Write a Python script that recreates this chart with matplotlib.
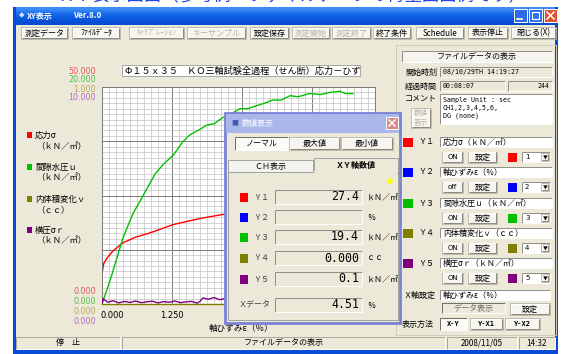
import numpy as np
import matplotlib.pyplot as plt
from matplotlib.patches import Rectangle, Circle
from matplotlib.ticker import MultipleLocator

plt.rcParams['font.family'] = ['Noto Sans CJK JP', 'DejaVu Sans']

W, H = 561, 354

# ---- グラフのデータ ----
x_label = '軸ひずみε（％）'
x_ticks = [0.0, 1.25, 2.5, 3.75]
x_max = 4.875
scale_max = [50.0, 20.0, 1.0, 10.0]   # Y1, Y3, Y4, Y5
scale_min = [0.0, 0.0, 0.0, 0.0]

# Y1 応力σ (kN/m2)
red_x = [0.0, 0.0, 0.03, 0.09, 0.2, 0.375, 0.6, 0.86, 1.27, 1.75, 2.23, 2.8, 3.4, 4.0, 4.51]
red_y = [0.0, 6.9, 9.3, 10.6, 12.3, 14.1, 15.4, 16.4, 18.3, 19.7, 20.8, 22.3, 24.0, 25.7, 27.4]

# Y3 間隙水圧u (kN/m2)
green_x = [0.0, 0.14, 0.375, 0.55, 0.68, 0.95, 1.1, 1.27, 1.45, 1.57, 1.75, 1.875, 2.0, 2.16,
           2.3, 2.46, 2.6, 2.77, 2.9, 3.05, 3.2, 3.36, 3.5, 3.71, 3.9, 4.07, 4.25, 4.35, 4.48]
green_y = [0.0, 2.1, 6.1, 8.3, 9.5, 12.0, 12.9, 13.7, 15.0, 15.6, 16.1, 16.5, 16.6, 17.2,
           17.5, 18.0, 18.0, 18.3, 18.5, 18.8, 18.8, 19.2, 19.1, 19.4, 19.3, 19.5, 19.6, 19.4, 19.4]

# Y4 内体積変化v (cc)
olive_x = [0.0, 4.51]
olive_y = [0.0, 0.0]

# Y5 横圧σr (kN/m2)
purple_x = [0.0, 0.02, 0.1, 0.2, 0.3, 0.4, 0.5, 0.6, 0.7, 0.8, 0.9, 1.0, 1.1, 1.2, 1.3, 1.4,
            1.5, 1.6, 1.7, 1.75, 1.8, 1.9, 2.0, 2.1, 2.2, 2.3, 2.4, 3.0, 3.6, 4.2, 4.51]
purple_y = [0.0, 0.25, 0.08, 0.15, 0.05, 0.12, 0.07, 0.14, 0.06, 0.1, 0.13, 0.05, 0.11, 0.08,
            0.14, 0.06, 0.1, 0.12, 0.04, 0.12, 0.28, 0.22, 0.3, 0.2, 0.24, 0.18, 0.2, 0.15, 0.12, 0.1, 0.1]

# 数値表示ダイアログの値
dlg_names = ['Ｙ１', 'Ｙ２', 'Ｙ３', 'Ｙ４', 'Ｙ５']
dlg_values = ['27.4', '', '19.4', '0.000', '0.1']
dlg_units = ['ｋＮ／㎡', '％', 'ｋＮ／㎡', 'ｃｃ', 'ｋＮ／㎡']
x_value = '4.51'

# 右パネル
ch_names = ['応力σ（ｋＮ／㎡）', '軸ひずみε（％）', '間隙水圧ｕ（ｋＮ／㎡）', '内体積変化ｖ（ｃｃ）', '横圧σｒ（ｋＮ／㎡）']
ch_state = ['ON', 'off', 'ON', 'ON', 'ON']
ch_colors = ['#FF0000', '#0000FF', '#00C000', '#808000', '#800080']

legend_names = [('応力σ', '（ｋＮ／㎡）'), ('間隙水圧ｕ', '（ｋＮ／㎡）'),
                ('内体積変化ｖ', '（ｃｃ）'), ('横圧σｒ', '（ｋＮ／㎡）')]
legend_colors = ['#FF0000', '#00C000', '#808000', '#800080']
label_colors = ['#E25858', '#52C052', '#BEA660', '#B66CC0']

BG = '#ECE9D8'
FS = 5.8

fig = plt.figure(figsize=(W / 100, H / 100), dpi=100)

back = fig.add_axes([0, 0, 1, 1], zorder=0)
front = fig.add_axes([0, 0, 1, 1], zorder=5)
for a in (back, front):
    a.set_xlim(0, W)
    a.set_ylim(H, 0)
    a.axis('off')
front.patch.set_visible(False)


def box(ax, x0, y0, x1, y1, fc, ec='none', lw=0.7, z=1):
    r = Rectangle((x0, y0), x1 - x0, y1 - y0, fc=fc, ec=ec, lw=lw, zorder=z)
    ax.add_patch(r)
    return r


def bevel(ax, x0, y0, x1, y1, light, dark, lw=0.7, z=2):
    kw = dict(lw=lw, solid_capstyle='butt', zorder=z)
    ax.plot([x0, x1], [y0, y0], color=light, **kw)
    ax.plot([x0, x0], [y0, y1], color=light, **kw)
    ax.plot([x0, x1], [y1, y1], color=dark, **kw)
    ax.plot([x1, x1], [y0, y1], color=dark, **kw)


def button(ax, x0, y0, x1, y1, label, color='black', face='#F6F5F0', pressed=False,
           fs=FS, weight='normal', family=None):
    box(ax, x0, y0, x1, y1, face, '#A8A79C', 0.5)
    if pressed:
        bevel(ax, x0, y0, x1, y1, '#716F64', '#FFFFFF')
    else:
        bevel(ax, x0 + 0.6, y0 + 0.6, x1 - 0.6, y1 - 0.6, '#FFFFFF', '#8A887C')
    kw = {}
    if family:
        kw['family'] = family
    ax.text((x0 + x1) / 2, (y0 + y1) / 2, label, ha='center', va='center', fontsize=fs,
            color=color, weight=weight, zorder=3, **kw)


def field(ax, x0, y0, x1, y1, face='white'):
    box(ax, x0, y0, x1, y1, face, 'none')
    bevel(ax, x0, y0, x1, y1, '#8E8D86', '#FFFFFF')


# ---- ウィンドウ ----
back.text(292, 4, 'ＸＹ表示画面（参考例：ファイルデータの再生画面例です）', ha='center',
          va='bottom', fontsize=12.5, color='#2346DF')
box(back, 13, 7, 558, 354, BG)
grad = np.array([[0.24, 0.55, 0.96], [0.10, 0.42, 0.93], [0.04, 0.35, 0.88], [0.03, 0.30, 0.82]])
back.imshow(grad[:, None, :], extent=(13, 558, 25, 7), aspect='auto', interpolation='bilinear', zorder=1)
back.set_xlim(0, W)
back.set_ylim(H, 0)
box(back, 13, 7, 16, 354, '#0A4BD6')
box(back, 555, 7, 558, 354, '#0A4BD6')
box(back, 13, 350, 558, 354, '#0A4BD6')
back.text(19, 16, '◆', fontsize=4, color='#D8E4FF', va='center', zorder=3)
back.text(27, 16, 'XY表示', fontsize=FS, color='white', weight='bold', va='center', zorder=3)
back.text(73, 16, 'Ver.8.0', fontsize=FS, color='white', weight='bold', va='center', zorder=3)
for x0, fc in [(514, '#2C6BEA'), (529, '#2C6BEA'), (544, '#E2542E')]:
    box(back, x0, 9, x0 + 13, 22, fc, 'white', 0.7, z=3)
back.plot([517, 522], [19, 19], color='white', lw=1.2, zorder=4)
box(back, 532, 12, 539, 19, 'none', 'white', 0.9, z=4)
back.plot([547, 554], [12, 19], color='white', lw=1.1, zorder=4)
back.plot([547, 554], [19, 12], color='white', lw=1.1, zorder=4)

# ツールバー
toolbar = [('測定データ', 21, 68, True), ('ﾌｧｲﾙﾃﾞｰﾀ', 72, 120, True), ('ｷｬﾘﾌﾞﾚｰｼｮﾝ', 129, 184, False),
           ('キーサンプル', 187, 246, False), ('設定保存', 250, 289, True), ('測定開始', 292, 330, False),
           ('測定終了', 332, 371, False), ('終了条件', 373, 411, True), ('Schedule', 416, 464, True),
           ('表示停止', 468, 508, True), ('閉じる(X)', 511, 556, True)]
for lab, x0, x1, en in toolbar:
    button(back, x0, 27, x1, 39, lab, color='black' if en else '#B5B2A6')

# ---- グラフ ----
px0, py0, px1, py1 = 102, 87, 375, 304
ax = fig.add_axes([px0 / W, 1 - py1 / H, (px1 - px0) / W, (py1 - py0) / H], zorder=1)
ax.set_facecolor('white')
ax.set_xlim(0, x_max)
ax.set_ylim(scale_min[0], scale_max[0])
ax.xaxis.set_major_locator(MultipleLocator(1.25))
ax.xaxis.set_minor_locator(MultipleLocator(0.125))
ax.yaxis.set_major_locator(MultipleLocator(scale_max[0] / 4))
ax.yaxis.set_minor_locator(MultipleLocator(scale_max[0] / 40))
ax.grid(which='minor', color='#C4C4C4', lw=0.5)
ax.grid(which='major', color='#7A7A7A', lw=0.7)
ax.set_axisbelow(True)
ax.tick_params(which='both', length=0, labelbottom=False, labelleft=False)
for s in ax.spines.values():
    s.set_color('#7A7A7A')
    s.set_linewidth(0.7)

axes_y = [ax]
for k in range(1, 4):
    t = ax.twinx()
    t.set_ylim(scale_min[k], scale_max[k])
    t.axis('off')
    axes_y.append(t)

axes_y[2].plot(olive_x, olive_y, color='#808000', lw=1.0, clip_on=False)
axes_y[3].plot(purple_x, purple_y, color='#800080', lw=1.0)
axes_y[0].plot(red_x, red_y, color='#FF0000', lw=1.0)
axes_y[1].plot(green_x, green_y, color='#00C000', lw=1.0)

# グラフタイトル
tb = box(back, 122, 65, 360, 76, 'white', '#9A9A9A', 0.6)
tt = back.text(125, 70.8, 'Φ１５ｘ３５　ＫＯ三軸試験全過程（せん断）応力－ひずみ', fontsize=6.6,
               va='center', zorder=3, clip_on=True)
tt.set_clip_path(tb)

# スケール表示
for k in range(4):
    back.text(96, 71 + 9 * k, f'{scale_max[k]:.3f}', ha='right', va='center', fontsize=5.8,
              color=label_colors[k], family='DejaVu Sans')
    back.text(96, 291 + 10 * k, f'{scale_min[k]:.3f}', ha='right', va='center', fontsize=5.8,
              color=label_colors[k], family='DejaVu Sans')

for v in x_ticks:
    xp = px0 + v / x_max * (px1 - px0)
    back.text(xp if v > 0 else px0 - 1, 315, f'{v:.3f}', ha='center' if v > 0 else 'left',
              va='center', fontsize=6, family='DejaVu Sans')
back.text(241, 328, x_label, ha='center', va='center', fontsize=6.2)

# 凡例
leg_y = [(135, 147), (167, 178), (199, 210), (230, 241)]
for (n1, n2), c, (y1, y2) in zip(legend_names, legend_colors, leg_y):
    box(back, 27, y1 - 3, 32, y1 + 3, c)
    back.text(35, y1, n1, va='center', fontsize=6)
    back.text(36, y2, n2, va='center', fontsize=6)

# ステータスバー
status = [(16, 120, '停　止'), (122, 445, 'ファイルデータの表示'), (447, 517, '2008/11/05'), (519, 555, '14:32')]
for x0, x1, s in status:
    bevel(back, x0, 337, x1, 349, '#ACA899', '#FFFFFF')
    back.text((x0 + x1) / 2, 343, s, ha='center', va='center', fontsize=FS)

# ---- 右パネル ----
box(back, 396, 45, 556, 335, 'none', '#CFCDBE', 0.7)
field(back, 402, 51, 552, 62, '#F4F3EE')
back.text(477, 56.5, 'ファイルデータの表示', ha='center', va='center', fontsize=FS, zorder=3)
back.text(405, 72, '開始時刻', va='center', fontsize=FS)
field(back, 440, 67, 552, 77, BG)
back.text(443, 72, '08/10/29TH 14:19:27', va='center', fontsize=4.8, family='DejaVu Sans Mono', zorder=3)
back.text(405, 86, '経過時間', va='center', fontsize=FS)
field(back, 440, 81, 505, 91, BG)
back.text(443, 86, '00:08:07', va='center', fontsize=4.8, family='DejaVu Sans Mono', zorder=3)
field(back, 508, 81, 552, 91, BG)
back.text(549, 86, '244', ha='right', va='center', fontsize=4.8, family='DejaVu Sans Mono', zorder=3)
back.text(405, 98, 'コメント', va='center', fontsize=FS)
field(back, 440, 94, 552, 124, 'white')
for i, s in enumerate(['Sample Unit : sec', 'CH1,2,3,4,5,6,', 'DG (none)']):
    back.text(443, 100 + 8 * i, s, va='center', fontsize=4.8, family='DejaVu Sans Mono', zorder=3)
button(back, 411, 108, 431, 128, '数値\n表示', color='#B5B2A6', fs=5)

row_y = [142, 172, 203, 233, 263]
for i, y in enumerate(row_y):
    box(back, 403, y - 4.5, 413, y + 4.5, ch_colors[i])
    back.text(418, y, dlg_names[i], va='center', fontsize=FS)
    field(back, 440, y - 5, 552, y + 5, 'white')
    back.text(443, y, ch_names[i], va='center', fontsize=FS, zorder=3)
    yb = y + 15
    button(back, 442, yb - 5.5, 463, yb + 5.5, ch_state[i], fs=5, family='DejaVu Sans')
    button(back, 468, yb - 5.5, 497, yb + 5.5, '設定')
    box(back, 508, yb - 4.5, 517, yb + 4.5, ch_colors[i])
    field(back, 522, yb - 5, 550, yb + 5, 'white')
    back.text(525, yb, str(i + 1), va='center', fontsize=5, family='DejaVu Sans', zorder=3)
    button(back, 541, yb - 4, 549, yb + 4, '▼', fs=3.5)

back.text(403, 295, 'Ｘ軸設定', va='center', fontsize=FS)
field(back, 440, 290, 550, 300, 'white')
back.text(443, 295, x_label, va='center', fontsize=FS, zorder=3)
button(back, 442, 303, 505, 313, 'データ表示', color='#6E6D66', face=BG, pressed=True)
button(back, 510, 303, 550, 315, '設定')
back.text(402, 324, '表示方法', va='center', fontsize=FS)
button(back, 440, 318, 467, 330, 'X-Y', face='#FBFBF8', pressed=True, fs=5, weight='bold', family='DejaVu Sans Mono')
button(back, 470, 318, 503, 330, 'Y-X1', fs=5, weight='bold', family='DejaVu Sans Mono')
button(back, 505, 318, 540, 330, 'Y-X2', fs=5, weight='bold', family='DejaVu Sans Mono')

# ---- 数値表示ダイアログ ----
dlg = box(front, 225, 113, 400, 323, BG, '#7A82D6', 2.0)
box(front, 226, 114, 399, 133, '#A9B7EA')
front.text(231, 123.5, '■', fontsize=5, color='#3E5CB0', va='center', zorder=3)
front.text(242, 123.5, '数値表示', fontsize=FS, color='white', va='center', zorder=3)
box(front, 386, 117, 398, 129, '#D98A8A', 'white', 0.7, z=3)
front.plot([389, 395], [120, 126], color='white', lw=1.1, zorder=4)
front.plot([389, 395], [126, 120], color='white', lw=1.1, zorder=4)

button(front, 235, 137, 288, 150, 'ノーマル', face='#FAFAF7', pressed=True)
button(front, 289, 137, 340, 150, '最大値')
button(front, 341, 137, 393, 150, '最小値')

box(front, 228, 172, 398, 320, BG, '#919B9C', 0.6)
box(front, 228, 160, 313, 172, '#F4F3EE', '#919B9C', 0.6)
front.text(270, 166, 'ＣＨ表示', ha='center', va='center', fontsize=FS, zorder=3)
box(front, 314, 158, 398, 173, BG, '#919B9C', 0.6)
box(front, 314.5, 171, 397.5, 174, BG)
front.text(356, 165.5, 'ＸＹ軸数値', ha='center', va='center', fontsize=FS, weight='bold', zorder=3)
front.add_patch(Circle((390, 181), 2.8, fc='#FFFF00', ec='none', zorder=3))

dlg_y = [197, 217, 237, 258, 279]
for i, y in enumerate(dlg_y):
    c = ch_colors[i]
    box(front, 240, y - 4.5, 248, y + 4.5, c)
    front.text(253, y, dlg_names[i], va='center', fontsize=FS, color='#404040')
    field(front, 275, y - 7, 362, y + 7, BG)
    front.text(359, y, dlg_values[i], ha='right', va='center', fontsize=8.4,
               family='DejaVu Sans Mono', zorder=3)
    u = front.text(367, y, dlg_units[i], va='center', fontsize=FS, zorder=3, clip_on=True)
    u.set_clip_path(dlg)
front.text(238, 305, 'Ｘデータ', va='center', fontsize=FS, color='#404040')
field(front, 275, 298, 362, 312, BG)
front.text(359, 305, x_value, ha='right', va='center', fontsize=8.4, family='DejaVu Sans Mono', zorder=3)
front.text(367, 305, '％', va='center', fontsize=FS, zorder=3)

fig.savefig('out.png', dpi=100)
